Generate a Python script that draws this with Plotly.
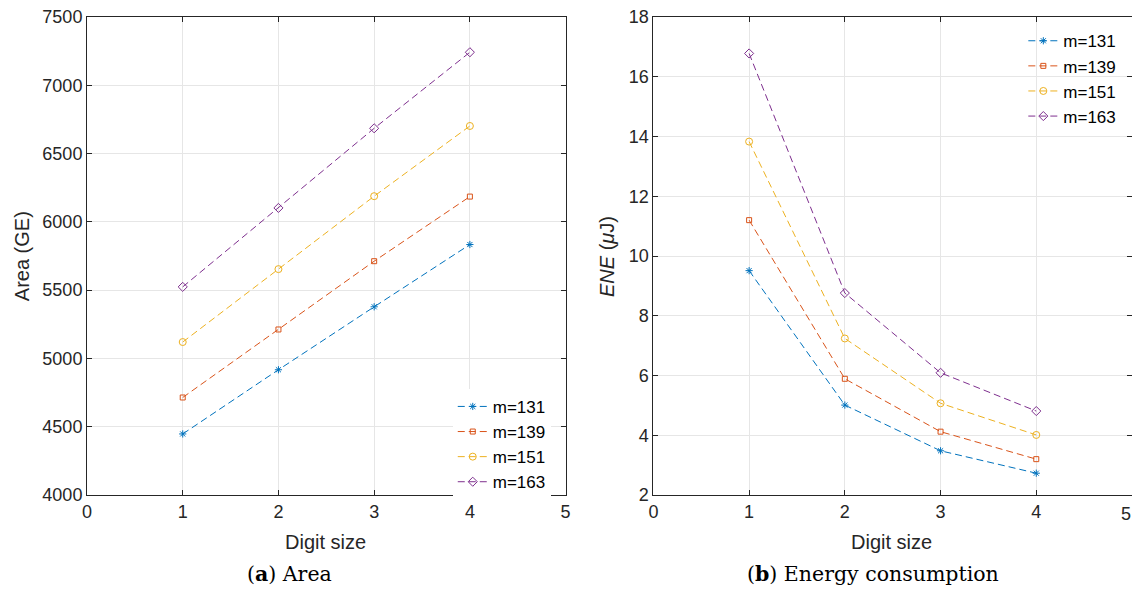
import plotly.graph_objects as go
from plotly.subplots import make_subplots

digit = [1, 2, 3, 4]
series_names = ["m=131", "m=139", "m=151", "m=163"]
x_ticks = [0, 1, 2, 3, 4, 5]
area_131 = [4447, 4917, 5378, 5834]
area_139 = [4714, 5212, 5712, 6185]
area_151 = [5120, 5654, 6188, 6702]
area_163 = [5524, 6102, 6685, 7242]
ene_131 = [9.51, 5.01, 3.48, 2.73]
ene_139 = [11.2, 5.89, 4.12, 3.2]
ene_151 = [13.83, 7.24, 5.07, 4.01]
ene_163 = [16.78, 8.76, 6.09, 4.81]

colors = ["#0072BD", "#D95319", "#EDB120", "#7E2F8E"]
symbols = ["asterisk-open", "square-open", "circle-open", "diamond-open"]
msizes = [6, 5, 7, 7]

fig = make_subplots(rows=1, cols=2, horizontal_spacing=0.084)

area = [area_131, area_139, area_151, area_163]
ene = [ene_131, ene_139, ene_151, ene_163]
for i in range(4):
    fig.add_trace(go.Scatter(x=digit, y=area[i], name=series_names[i], mode="lines+markers",
                             line=dict(color=colors[i], width=1, dash="7px,4px"),
                             marker=dict(symbol=symbols[i], size=msizes[i], color=colors[i],
                                         line=dict(color=colors[i], width=1)),
                             legend="legend"), row=1, col=1)
for i in range(4):
    fig.add_trace(go.Scatter(x=digit, y=ene[i], name=series_names[i], mode="lines+markers",
                             line=dict(color=colors[i], width=1, dash="7px,4px"),
                             marker=dict(symbol=symbols[i], size=msizes[i], color=colors[i],
                                         line=dict(color=colors[i], width=1)),
                             legend="legend2"), row=1, col=2)

sans = "Liberation Sans, Arial, sans-serif"
axis_font = dict(family=sans, size=18, color="#262626")
common = dict(showline=True, linecolor="#262626", linewidth=1, mirror="ticks",
              ticks="inside", ticklen=5, tickcolor="#262626",
              showgrid=True, gridcolor="#E6E6E6", gridwidth=1, zeroline=False,
              tickfont=axis_font, automargin=False, ticklabeloverflow="allow")

fig.update_xaxes(range=[0, 5], tickvals=x_ticks, **common)
# last tick label of the right panel is drawn as right-aligned text so it stays inside the page
fig.update_xaxes(ticktext=[str(v) for v in x_ticks[:-1]] + [""], row=1, col=2)
fig.update_yaxes(**common)
fig.update_yaxes(range=[4000, 7500], dtick=500, row=1, col=1)
fig.update_yaxes(range=[2, 18], dtick=2, row=1, col=2)

fig.add_annotation(text=str(x_ticks[-1]), x=x_ticks[-1], y=-0.040, xref="x2", yref="paper",
                   showarrow=False, font=axis_font, xanchor="right", yanchor="middle", xshift=1)

title_font = dict(family=sans, size=20, color="#262626")
fig.add_annotation(text="Digit size", x=0.228, y=-0.098, xref="paper", yref="paper",
                   showarrow=False, font=title_font, xanchor="center", yanchor="middle")
fig.add_annotation(text="Digit size", x=0.770, y=-0.098, xref="paper", yref="paper",
                   showarrow=False, font=title_font, xanchor="center", yanchor="middle")
fig.add_annotation(text="Area (GE)", x=-0.062, y=0.5, xref="paper", yref="paper", textangle=-90,
                   showarrow=False, font=title_font, xanchor="center", yanchor="middle")
fig.add_annotation(text="<i>ENE</i> (<i>μ</i>J)", x=0.4976, y=0.5, xref="paper", yref="paper", textangle=-90,
                   showarrow=False, font=title_font, xanchor="center", yanchor="middle")

caption_font = dict(family="DejaVu Serif, Liberation Serif, serif", size=20.5, color="#000000")
fig.add_annotation(text="(<b>a</b>) Area", x=(289 - 87) / 1045, y=-0.165, xref="paper", yref="paper",
                   showarrow=False, font=caption_font, xanchor="center", yanchor="middle")
fig.add_annotation(text="(<b>b</b>) Energy consumption", x=(873 - 87) / 1045, y=-0.165, xref="paper", yref="paper",
                   showarrow=False, font=caption_font, xanchor="center", yanchor="middle")

legend_font = dict(family=sans, size=17, color="#000000")
fig.update_layout(
    width=1132, height=583,
    margin=dict(l=79, r=8, t=9, b=96),
    plot_bgcolor="white", paper_bgcolor="white",
    showlegend=True,
    legend=dict(x=0.350, y=0.222, xanchor="left", yanchor="top", bgcolor="white",
                font=legend_font, tracegroupgap=0, itemwidth=30),
    legend2=dict(x=0.896, y=0.987, xanchor="left", yanchor="top", bgcolor="rgba(0,0,0,0)",
                 font=legend_font, tracegroupgap=0, itemwidth=30),
)

fig.write_html("out.html")
